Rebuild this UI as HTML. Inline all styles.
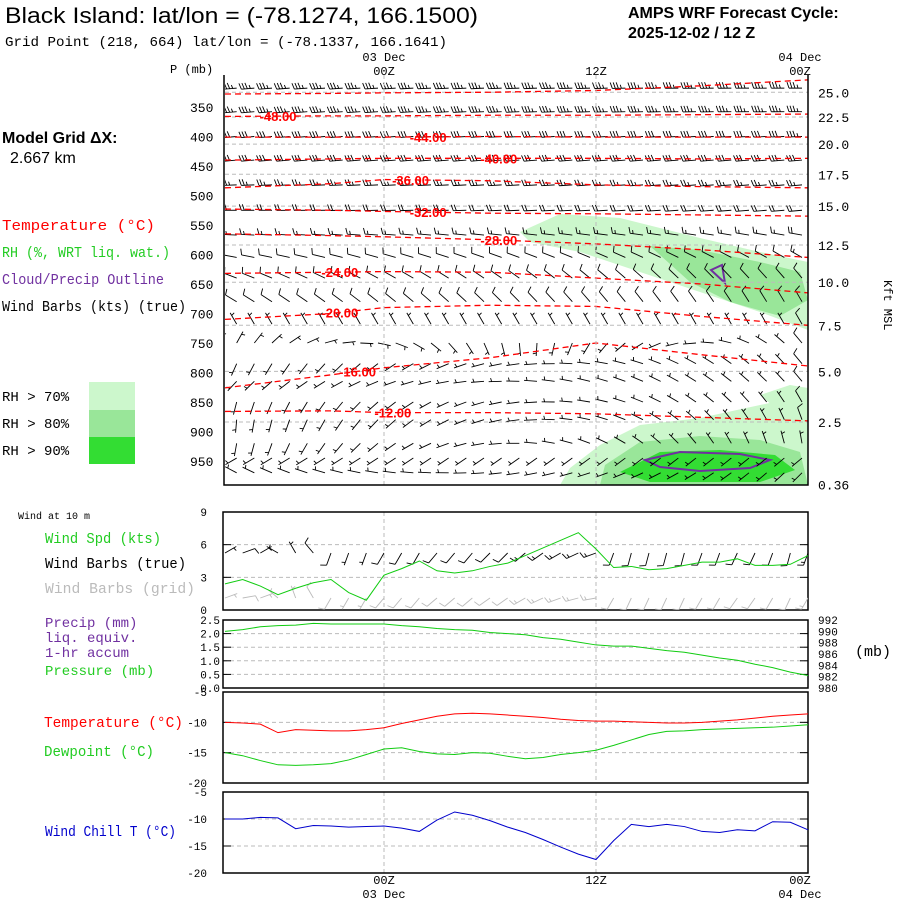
<!DOCTYPE html>
<html><head><meta charset="utf-8">
<style>
body{margin:0;background:#fff;}
svg{display:block;}
text{font-family:"Liberation Mono","DejaVu Sans Mono",monospace;}
.s{font-family:"Liberation Sans",sans-serif;}
</style></head>
<body>
<svg id="c" width="900" height="900" viewBox="0 0 900 900" xmlns="http://www.w3.org/2000/svg">
<defs>
<clipPath id="clipMain"><rect x="225" y="76" width="583" height="409"/></clipPath>
<clipPath id="clipWind"><rect x="224" y="513" width="584" height="97"/></clipPath>
</defs>
<text class="s" x="5" y="23" font-size="22" textLength="473" lengthAdjust="spacingAndGlyphs">Black Island:  lat/lon = (-78.1274, 166.1500)</text>
<text x="5" y="46" font-size="14" textLength="442" lengthAdjust="spacingAndGlyphs">Grid Point (218, 664) lat/lon = (-78.1337, 166.1641)</text>
<text class="s" x="628" y="18" font-size="16" font-weight="bold">AMPS WRF Forecast Cycle:</text>
<text class="s" x="628" y="38" font-size="16" font-weight="bold">2025-12-02 / 12  Z</text>
<text x="170" y="73" font-size="12">P (mb)</text>
<text class="s" x="2" y="143" font-size="16" font-weight="bold">Model Grid ΔX:</text>
<text class="s" x="10" y="163" font-size="16">2.667 km</text>
<text x="2" y="230" font-size="15" fill="#f00" textLength="153" lengthAdjust="spacingAndGlyphs">Temperature (°C)</text>
<text x="2" y="257" font-size="15" fill="#2c2" textLength="168" lengthAdjust="spacingAndGlyphs">RH (%, WRT liq. wat.)</text>
<text x="2" y="284" font-size="15" fill="#7030a0" textLength="162" lengthAdjust="spacingAndGlyphs">Cloud/Precip Outline</text>
<text x="2" y="311" font-size="15" textLength="184" lengthAdjust="spacingAndGlyphs">Wind Barbs (kts) (true)</text>
<rect x="89" y="382" width="46" height="28" fill="#ccf7cc"/>
<rect x="89" y="410" width="46" height="27" fill="#99e699"/>
<rect x="89" y="437" width="46" height="27" fill="#33dd33"/>
<text x="2" y="401" font-size="14">RH &gt; 70%</text>
<text x="2" y="428" font-size="14">RH &gt; 80%</text>
<text x="2" y="455" font-size="14">RH &gt; 90%</text>
<text x="884" y="280" font-size="12" transform="rotate(90 884 280)">Kft MSL</text>
<text x="18" y="519" font-size="10">Wind at 10 m</text>
<text x="45" y="543" font-size="15" fill="#2c2" textLength="116" lengthAdjust="spacingAndGlyphs">Wind Spd (kts)</text>
<text x="45" y="568" font-size="15" textLength="141" lengthAdjust="spacingAndGlyphs">Wind Barbs (true)</text>
<text x="45" y="593" font-size="15" fill="#bbb" textLength="150" lengthAdjust="spacingAndGlyphs">Wind Barbs (grid)</text>
<text x="45" y="627" font-size="14" fill="#7030a0">Precip (mm)</text>
<text x="45" y="642" font-size="14" fill="#7030a0">liq. equiv.</text>
<text x="45" y="657" font-size="14" fill="#7030a0">1-hr accum</text>
<text x="45" y="675" font-size="14" fill="#2c2">Pressure (mb)</text>
<text x="855" y="656" font-size="15">(mb)</text>
<text x="44" y="727" font-size="15" fill="#f00" textLength="139" lengthAdjust="spacingAndGlyphs">Temperature (°C)</text>
<text x="44" y="756" font-size="15" fill="#2c2" textLength="110" lengthAdjust="spacingAndGlyphs">Dewpoint (°C)</text>
<text x="45" y="836" font-size="15" fill="#00c" textLength="131" lengthAdjust="spacingAndGlyphs">Wind Chill T (°C)</text>
<g id="g"></g>
</svg>
<script>
const hours=[-9,-8,-7,-6,-5,-4,-3,-2,-1,0,1,2,3,4,5,6,7,8,9,10,11,12,13,14,15,16,17,18,19,20,21,22,23,24];
const windSpd=[2.4,2.8,2.2,1.4,2.0,2.5,2.8,1.6,0.9,3.2,3.8,4.5,3.6,3.4,3.6,4.0,4.3,5.0,5.7,6.4,7.1,5.6,3.9,4.0,3.7,3.8,4.1,4.4,4.4,4.7,4.1,4.1,4.2,5.0];
const windDir=[60,70,60,300,330,320,200,200,200,210,210,210,220,220,220,225,225,230,235,240,245,250,200,195,195,195,195,200,200,205,205,200,195,200];
const sfcPres=[990,990.3,990.8,991.0,991.1,991.4,991.3,991.3,991.3,991.3,991.0,990.8,990.5,990.3,990.2,989.8,989.6,989.4,988.9,988.6,988.1,987.6,987.4,987.4,987.0,986.6,986.3,985.8,985.3,984.9,984.2,983.6,982.8,982.2];
const sfcTemp=[-10.0,-10.1,-10.3,-11.7,-11.2,-11.3,-11.4,-11.4,-11.2,-10.9,-10.2,-9.6,-9.0,-8.6,-8.5,-8.6,-8.8,-9.0,-9.2,-9.5,-9.7,-9.8,-9.8,-9.9,-10.0,-10.1,-10.1,-10.0,-9.8,-9.6,-9.3,-9.0,-8.8,-8.6];
const dewpt=[-15.0,-15.5,-16.3,-17.0,-17.1,-17.0,-16.8,-16.2,-15.3,-14.4,-14.2,-14.8,-15.2,-15.3,-15.0,-15.1,-15.6,-16.0,-15.8,-15.3,-15.0,-14.6,-13.8,-12.9,-12.0,-11.5,-11.4,-11.2,-11.1,-11.0,-10.9,-10.8,-10.6,-10.4];
const windChill=[-10.0,-10.0,-9.7,-9.8,-11.8,-11.2,-11.3,-11.5,-11.4,-11.3,-11.7,-12.3,-10.2,-8.7,-9.3,-10.3,-11.5,-12.5,-13.8,-15.2,-16.5,-17.5,-14.0,-11.0,-11.4,-11.0,-11.4,-12.3,-12.5,-12.0,-12.2,-10.5,-10.6,-12.0];
const contourHours=[-9,-3,0,6,12,18,24];
const contourLevels=[-52,-48,-44,-40,-36,-32,-28,-24,-20,-16,-12];
const contour52=[328,327,326,325,322,314,304];
const contour48=[366,365,365,364,364,363,362];
const contour44=[401,401,401,400,401,401,401];
const contour40=[440,438,437,437,437,438,437];
const contour36=[487,480,473,475,482,485,487];
const contour32=[523,525,527,530,531,533,535];
const contour28=[565,568,570,575,582,592,605];
const contour24=[632,630,629,630,640,650,665];
const contour20=[710,700,690,686,688,705,720];
const contour16=[826,804,792,775,750,770,789];
const contour12=[866,865,868,868,870,876,882];
const contourLabelHour=[-8,-6,2.5,6.5,1.5,2.5,6.5,-2.5,-2.5,-1.5,0.5];
const presTicks=[350,400,450,500,550,600,650,700,750,800,850,900,950];
const kftTicks=["25.0","22.5","20.0","17.5","15.0","12.5","10.0","7.5","5.0","2.5","0.36"];
const kftPres=[325,367,413,464,518,584,647,720,798,884,990];
const barbLevels=[318,358,400,440,482,525,567,605,640,680,718,750,785,815,850,880,920,945,970];
const barbDirEarly=[265,265,265,265,268,270,272,280,290,300,330,20,200,220,190,180,185,240,300];
const barbDirLate=[270,270,268,265,265,265,280,300,320,330,330,320,320,320,330,340,350,230,225];
const barbSpdEarly=[35,35,30,30,25,20,15,10,10,10,5,5,5,5,5,5,5,5,5];
const barbSpdLate=[35,35,35,30,25,20,20,15,10,10,10,10,10,10,10,10,5,5,5];
const NS='http://www.w3.org/2000/svg';
const G=document.getElementById('g');
function el(t,a,p){const e=document.createElementNS(NS,t);for(const k in a)e.setAttribute(k,a[k]);(p||G).appendChild(e);return e;}
const X=h=>225+(h+9)*(583/33);
const PY=p=>107+(p-350)*0.59;
const main=el('g',{});


const rhLayer=el('g',{},main);
function poly(pts,fill,stroke,nm){const e=el('polygon',{points:pts,fill:fill,stroke:stroke||'none','stroke-width':2},rhLayer);}
poly('520,232 560,214 620,218 700,238 760,252 808,262 808,330 760,312 700,292 640,272 580,252 530,242','#ccf7cc',null,'rh70-upper');
poly('560,485 570,468 600,445 640,425 700,418 760,405 808,395 808,485','#ccf7cc',null,'rh70-lower');
poly('760,395 790,385 808,388 808,410 780,412','#ccf7cc',null,'rh70-small');
poly('650,246 700,250 760,262 800,272 808,300 780,316 730,302 690,282','#99e699',null,'rh80-upper');
poly('600,485 605,465 640,442 700,436 760,440 800,452 808,485','#99e699',null,'rh80-lower');
poly('620,472 660,452 720,450 775,455 795,470 760,482 650,482','#33dd33',null,'rh90-lower');
poly('645,460 680,452 740,454 770,460 750,468 700,471 660,467','none','#7030a0','cloud-outline-lower');
poly('711,270 722,265 725,283','none','#7030a0','cloud-outline-small');
kftPres.forEach((p,i)=>{const y=PY(p);
 if(i<kftPres.length-1){const l=el('line',{x1:225,x2:808,y1:y,y2:y,stroke:'#bbb','stroke-dasharray':'4,3'},main);}
 const t=el('text',{x:818,y:y+5,'font-size':13},main);t.textContent=kftTicks[i];});
presTicks.forEach(p=>{const t=el('text',{x:190,y:PY(p)+5,'font-size':13},main);t.textContent=p;});
function barb(x,y,dir,spd,col,len,parent){
 const r=dir*Math.PI/180,dx=Math.sin(r),dy=-Math.cos(r);
 const ex=x+dx*len,ey=y+dy*len;
 let d=`M${x},${y}L${ex},${ey}`;
 const px=-dy,py=dx;let s=spd,pos=0;
 while(s>=50){const bx=ex-dx*pos,by=ey-dy*pos;d+=`M${bx},${by}L${bx+px*6+dx*-2},${by+py*6+dy*-2}L${bx-dx*4},${by-dy*4}`;pos+=5;s-=50;}
 while(s>=10){const bx=ex-dx*pos,by=ey-dy*pos;d+=`M${bx},${by}L${bx+px*6+dx*2},${by+py*6+dy*2}`;pos+=3;s-=10;}
 if(s>=5){if(pos===0)pos=3;const bx=ex-dx*pos,by=ey-dy*pos;d+=`M${bx},${by}L${bx+px*3.5+dx*1},${by+py*3.5+dy*1}`;}
 const e=el('path',{d:d,stroke:col,fill:'none','stroke-width':0.9},parent);
 }
const barbG=el('g',{'clip-path':'url(#clipMain)'},main);
barbLevels.forEach((p,i)=>hours.forEach(h=>{const f=(h+9)/33;
 barb(X(h)-6,PY(p),barbDirEarly[i]*(1-f)+barbDirLate[i]*f,barbSpdEarly[i]*(1-f)+barbSpdLate[i]*f,'#000',13,barbG);}));
const contourData=[contour52,contour48,contour44,contour40,contour36,contour32,contour28,contour24,contour20,contour16,contour12];
contourData.forEach((arr,i)=>{
 const d=arr.map((p,j)=>(j?'L':'M')+X(contourHours[j])+','+PY(p)).join('');
 const e=el('path',{d:d,stroke:'#f00',fill:'none','stroke-width':1.3,'stroke-dasharray':'6,4'},main);
 
 if(i>0){const h=contourLabelHour[i];let j=0;while(j<contourHours.length-2&&contourHours[j+1]<h)j++;
  const f=(h-contourHours[j])/(contourHours[j+1]-contourHours[j]);const p=arr[j]+(arr[j+1]-arr[j])*f;
  const t=el('text',{x:X(h),y:PY(p)+5,'font-size':13,'font-weight':'bold',fill:'#f00','text-anchor':'middle',class:'s'},main);
  t.textContent=contourLevels[i].toFixed(2);}});
function vlines(y1,y2){[0,12].forEach(h=>{const l=el('line',{x1:X(h),x2:X(h),y1:y1,y2:y2,stroke:'#bbb','stroke-dasharray':'4,3'});});}
function frame(x,y,w,h,nm){const r=el('rect',{x:x,y:y,width:w,height:h,fill:'none',stroke:'#000','stroke-width':1.5});}
vlines(75,485);
const mb=el('path',{d:'M224,75V485H808V75',fill:'none',stroke:'#000','stroke-width':1.5});
function panel(y0,y1,vmin,vmax,grid,ticks,nm,tx,fmt){
 vlines(y0,y1);
 const Y=v=>y1-(v-vmin)/(vmax-vmin)*(y1-y0);
 grid.forEach(v=>{const l=el('line',{x1:223,x2:808,y1:Y(v),y2:Y(v),stroke:'#bbb','stroke-dasharray':'4,3'});
  [[223,231],[800,808]].forEach(q=>{const k=el('line',{x1:q[0],x2:q[1],y1:Y(v),y2:Y(v),stroke:'#000'});});});
 ticks.forEach(v=>{const t=el('text',{x:tx,y:Y(v)+4,'font-size':11,'text-anchor':'end'});t.textContent=fmt?v.toFixed(1):v;});
 frame(223,y0,585,y1-y0,nm);return Y;}
function series(vals,Y,col,nm){const d=vals.map((v,i)=>(i?'L':'M')+X(hours[i])+','+Y(v)).join('');const e=el('path',{d:d,stroke:col,fill:'none','stroke-width':1});}
const YW=panel(512,610,0,9,[3,6],[9,6,3,0],'wind-panel',207);
const wbG=el('g',{'clip-path':'url(#clipWind)'});
hours.forEach((h,i)=>{barb(X(h),553,windDir[i],windSpd[i]*2+5,'#000',13,wbG);barb(X(h),598,windDir[i]+10,windSpd[i]*2+5,'#bbb',13,wbG);});
series(windSpd,YW,'#1c1','wind-speed-line');
const YP=panel(620,688,0,2.5,[0.5,1,1.5,2],[2.5,2.0,1.5,1.0,0.5,0.0],'precip-pressure-panel',220,true);
const presLabels=[992,990,988,986,984,982,980];
const YPr=v=>620+(992-v)/12*68;
presLabels.forEach(v=>{const t=el('text',{x:818,y:YPr(v)+4,'font-size':11});t.textContent=v;});
series(sfcPres,YPr,'#1c1','surface-pressure-line');
const YT=panel(692,783,-20,-5,[-10,-15],[-5,-10,-15,-20],'temperature-panel',207);
series(sfcTemp,YT,'#f00','temperature-line');
series(dewpt,YT,'#1c1','dewpoint-line');
const YC=panel(792,873,-20,-5,[-10,-15],[-5,-10,-15,-20],'wind-chill-panel',207);
series(windChill,YC,'#00c','wind-chill-line');
function tl(x,y,s,nm){const t=el('text',{x:x,y:y,'font-size':12,'text-anchor':'middle'});t.textContent=s;}
tl(X(0),61,'03 Dec','top-date-label');tl(X(0),75,'00Z','top-time-label');tl(X(12),75,'12Z','top-time-label');tl(X(24)-8,61,'04 Dec','top-date-label');tl(X(24)-8,75,'00Z','top-time-label');
tl(X(0),884,'00Z','bottom-time-label');tl(X(0),898,'03 Dec','bottom-date-label');tl(X(12),884,'12Z','bottom-time-label');tl(X(24)-8,884,'00Z','bottom-time-label');tl(X(24)-8,898,'04 Dec','bottom-date-label');
</script>
</body></html>
